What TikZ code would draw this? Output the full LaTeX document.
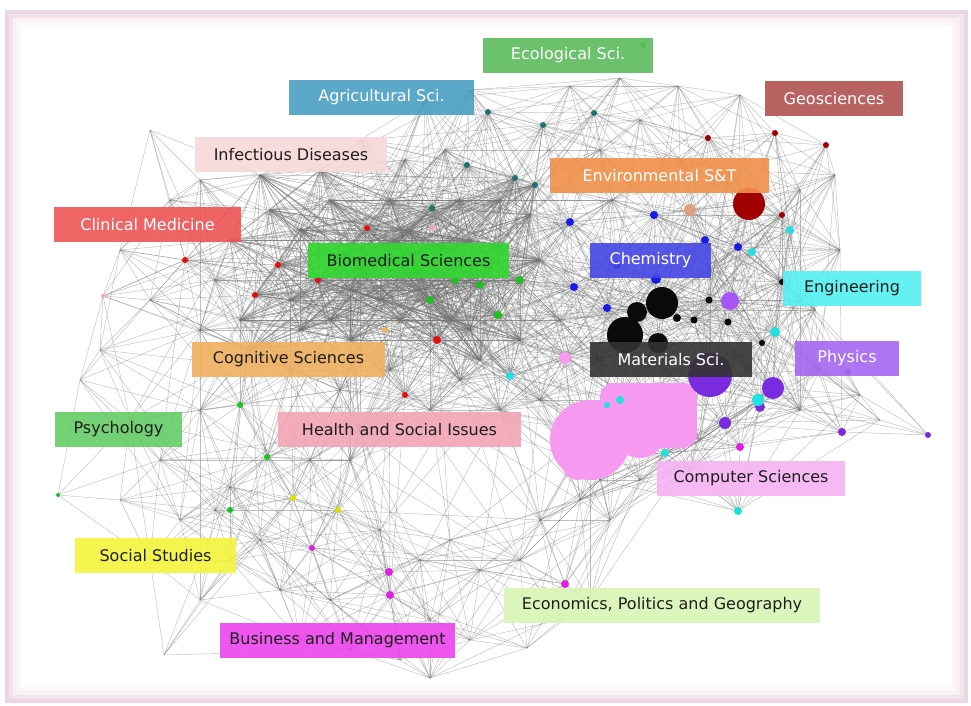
\documentclass[tikz,border=0pt]{standalone}
\usepackage{fontspec}
\setmainfont{DejaVu Sans}
\definecolor{cEco}{HTML}{5DBB5D}
\definecolor{cAgri}{HTML}{4A9FC4}
\definecolor{cGeo}{HTML}{B25252}
\definecolor{cInf}{HTML}{F8D8D8}
\definecolor{cEnv}{HTML}{F0904A}
\definecolor{cClin}{HTML}{EE5555}
\definecolor{cBio}{HTML}{2FD82F}
\definecolor{cChem}{HTML}{4646E6}
\definecolor{cEng}{HTML}{55F0F0}
\definecolor{cCog}{HTML}{F0B060}
\definecolor{cMat}{HTML}{333333}
\definecolor{cPhys}{HTML}{A566F0}
\definecolor{cPsy}{HTML}{66CC66}
\definecolor{cHealth}{HTML}{F2A5B5}
\definecolor{cComp}{HTML}{F7B2F2}
\definecolor{cSoc}{HTML}{F5F53D}
\definecolor{cEcon}{HTML}{D9F5B5}
\definecolor{cBus}{HTML}{EE44EE}
\definecolor{dBlack}{HTML}{0A0A0A}
\definecolor{dPurp}{HTML}{7A2BE0}
\definecolor{dPurpL}{HTML}{A855F7}
\definecolor{dRed}{HTML}{A00000}
\definecolor{dPink}{HTML}{F59AF0}
\definecolor{dCyan}{HTML}{20E0E0}
\definecolor{dBlue}{HTML}{1A1AE6}
\definecolor{dTeal}{HTML}{207070}
\definecolor{dGreen}{HTML}{20C020}
\definecolor{dRedB}{HTML}{E01010}
\definecolor{dYel}{HTML}{E0E000}
\definecolor{dMag}{HTML}{E020E0}
\definecolor{dOra}{HTML}{E0A080}
\definecolor{frameA}{HTML}{EAD6E4}
\definecolor{frameB}{HTML}{F1E3EC}
\definecolor{frameC}{HTML}{F8F0F5}
\definecolor{frameD}{HTML}{FCF8FA}
\definecolor{txt}{HTML}{1E1E1E}
\begin{document}
\begin{tikzpicture}[x=1pt,y=-1pt,
  edge/.style={draw=black!55, line width=0.45pt, opacity=0.45},
  coreedge/.style={draw=black!55, line width=0.5pt, opacity=0.55},
  lab/.style={inner sep=0pt, minimum height=35pt, font=\fontsize{16}{19}\selectfont, fill opacity=0.9, text opacity=1},
  dot/.style={circle, inner sep=0pt, draw=none}]
\useasboundingbox (0,0) rectangle (971,706);
% frame
\fill[frameA] (5,10) rectangle (968,703);
\fill[frameB] (9,14) rectangle (964,699);
\fill[frameC] (13,18) rectangle (960,695);
\fill[frameD] (17,22) rectangle (956,691);
\fill[white] (21,26) rectangle (952,687);
% points of the network
\foreach \px/\py [count=\i] in {
470/90, 570/86, 678/86, 740/95, 620/78, 425/100, 488/112, 543/125, 594/113, 640/120,
708/138, 775/133, 826/145, 445/150, 467/165, 515/178, 535/185, 600/150, 680/160, 730/170,
800/190, 835/175, 782/215, 790/230, 749/204, 690/210, 654/215, 612/200, 570/222, 530/215,
705/240, 738/247, 752/252, 617/265, 655/278, 574/287, 540/260, 607/308, 560/320, 520/280,
500/245, 710/270, 782/282, 800/300, 775/332, 762/343, 730/301, 709/300, 694/320, 728/322,
662/303, 635/310, 625/335, 658/342, 600/360, 565/356, 510/376, 540/400, 620/400, 590/430,
650/410, 575/460, 665/453, 640/480, 600/480, 710/375, 773/388, 760/400, 725/423, 740/447,
842/432, 928/435, 860/395, 820/370, 800/410, 700/440, 738/511, 690/470, 840/250, 815/310,
880/420,
150/130, 200/180, 260/175, 320/170, 390/200, 433/208, 460/200, 367/228, 345/255, 410/230,
440/245, 415/270, 455/280, 480/285, 430/300, 498/315, 470/330, 400/320, 437/340, 380/300,
318/280, 278/265, 255/295, 230/240, 185/260, 200/330, 150/300, 103/296, 240/320, 300/330,
350/340, 390/370, 405/395, 340/390, 290/370, 250/350, 460/380, 500/410, 430/410, 170/200,
120/250, 270/210, 330/200, 300/230, 350/290, 470/240, 490/270, 380/260, 420/290, 330/320,
450/320, 395/240, 360/270, 290/300, 520/340, 480/360, 215/280, 405/160, 360/140, 500/200,
58/495, 80/380, 100/350, 130/420, 160/460, 200/410, 240/405, 230/487, 267/457, 293/498,
338/510, 310/460, 350/460, 180/520, 215/510, 260/540, 312/548, 280/590, 330/600, 389/572,
390/595, 420/560, 450/540, 480/570, 520/560, 565/584, 540/520,
380/530, 430/620, 470/640, 430/678, 400/660, 527/648, 560/620, 590/600, 350/650, 300/640,
200/600, 230/560, 150/560, 120/500, 610/520, 580/500, 164/655, 360/430}
{\coordinate (p\i) at (\px,\py);
 \expandafter\xdef\csname ptx\i\endcsname{\px}%
 \expandafter\xdef\csname pty\i\endcsname{\py}%
 \xdef\npts{\i}}
% edges between points
\foreach \i in {1,...,\npts}{
  \pgfmathtruncatemacro{\st}{\i+1}
  \ifnum\st>\npts\relax\else
  \foreach \j in {\st,...,\npts}{
    \edef\xa{\csname ptx\i\endcsname}\edef\ya{\csname pty\i\endcsname}%
    \edef\xb{\csname ptx\j\endcsname}\edef\yb{\csname pty\j\endcsname}%
    \pgfmathsetmacro{\dd}{veclen(\xb-\xa,\yb-\ya)}%
    \pgfmathtruncatemacro{\hh}{mod(\i*7+\j*13,4)}%
    \pgfmathtruncatemacro{\core}{and(and(\xa>225,\xa<560),and(and(\ya>165,\ya<365),and(and(\xb>225,\xb<560),and(\yb>165,\yb<365))))}%
    \ifdim\dd pt<120pt
      \ifnum\core=1 \draw[coreedge] (p\i) -- (p\j);\else\draw[edge] (p\i) -- (p\j);\fi
    \else
      \ifnum\core=1
        \ifdim\dd pt<270pt \ifodd\hh\relax\else\draw[coreedge] (p\i) -- (p\j);\fi\fi
      \else
        \ifdim\dd pt<210pt
          \ifnum\hh=0 \draw[edge] (p\i) -- (p\j);\fi
        \fi
      \fi
    \fi
  }\fi
}
% coloured dots
\fill[dPink, rounded corners=14pt] (600,383) rectangle (697,448);
\foreach \x/\y/\r/\c [count=\k] in {
590/440/40/dPink, 640/432/26/dPink, 578/464/16/dPink, 565/358/6/dPink,
625/335/18/dBlack, 662/303/16/dBlack, 637/312/10/dBlack, 658/343/10/dBlack, 709/300/3.5/dBlack,
694/320/3.5/dBlack, 728/322/3.5/dBlack, 762/343/3/dBlack, 782/282/3/dBlack, 677/318/4/dBlack,
710/375/22/dPurp, 730/301/9/dPurpL, 773/388/11/dPurp, 725/423/6/dPurp, 760/407/5/dPurp,
842/432/4/dPurp, 928/435/3/dPurp, 848/372/3/dPurp,
749/204/16/dRed, 708/138/3/dRed, 775/133/3/dRed, 826/145/3/dRed, 782/215/3/dRed, 690/210/6/dOra,
790/230/4/dCyan, 752/252/4/dCyan, 775/332/5/dCyan, 758/400/6/dCyan, 620/400/4/dCyan, 665/453/4/dCyan,
738/511/4/dCyan, 510/376/4/dCyan, 607/405/3/dCyan,
570/222/4/dBlue, 654/215/4/dBlue, 705/240/4/dBlue, 738/247/4/dBlue, 617/265/4/dBlue, 574/287/4/dBlue,
607/308/4/dBlue, 656/279/5/dBlue,
488/112/3/dTeal, 467/165/3/dTeal, 515/178/3/dTeal, 535/185/3/dTeal, 594/113/3/dTeal, 543/125/3/dTeal, 432/208/3/dTeal,
430/300/4/dGreen, 455/280/4/dGreen, 480/285/4/dGreen, 520/280/4/dGreen, 498/315/4/dGreen, 415/270/3/dGreen,
460/265/3/dGreen, 643/45/3/dGreen,
185/260/3/dRedB, 255/295/3/dRedB, 278/265/3/dRedB, 318/280/3/dRedB, 437/340/4/dRedB, 405/395/3/dRedB, 367/228/3/dRedB,
432/228/3/cHealth, 103/296/2/cHealth, 385/330/3/cCog,
293/498/3/dYel, 338/510/3/dYel,
240/405/3/dGreen, 267/457/3/dGreen, 230/510/3/dGreen, 58/495/2/dGreen,
389/572/4/dMag, 390/595/4/dMag, 565/584/4/dMag, 312/548/3/dMag, 740/447/4/dMag}
{\node[dot, fill=\c, minimum size=2*\r] (d\k) at (\x,\y) {};}
% labels
\node[lab, fill=cEco, text=white, minimum width=170] (ecol) at (568,55.5) {Ecological Sci.};
\node[lab, fill=cAgri, text=white, minimum width=185] (agri) at (381.5,97.5) {Agricultural Sci.};
\node[lab, fill=cGeo, text=white, minimum width=138] (geo) at (834,98.5) {Geosciences};
\node[lab, fill=cInf, text=txt, minimum width=192] (inf) at (291,154.5) {Infectious Diseases};
\node[lab, fill=cEnv, text=white, minimum width=219] (env) at (659.5,175.5) {Environmental S\&T};
\node[lab, fill=cClin, text=white, minimum width=187] (clin) at (147.5,224.5) {Clinical Medicine};
\node[lab, fill=cBio, text=txt, minimum width=201] (bio) at (408.5,260.5) {Biomedical Sciences};
\node[lab, fill=cChem, text=white, minimum width=121] (chem) at (650.5,260.5) {Chemistry};
\node[lab, fill=cEng, text=txt, minimum width=138] (eng) at (852,288.5) {Engineering};
\node[lab, fill=cCog, text=txt, minimum width=193] (cog) at (288.5,359.5) {Cognitive Sciences};
\node[lab, fill=cMat, text=white, minimum width=162] (mat) at (671,359.5) {Materials Sci.};
\node[lab, fill=cPhys, text=white, minimum width=104] (phys) at (847,358.5) {Physics};
\node[lab, fill=cPsy, text=txt, minimum width=127] (psy) at (118.5,429.5) {Psychology};
\node[lab, fill=cHealth, text=txt, minimum width=243] (health) at (399.5,429.5) {Health and Social Issues};
\node[lab, fill=cComp, text=txt, minimum width=188] (comp) at (751,478.5) {Computer Sciences};
\node[lab, fill=cSoc, text=txt, minimum width=161] (soc) at (155.5,555.5) {Social Studies};
\node[lab, fill=cEcon, text=txt, minimum width=316] (econ) at (662,605.5) {Economics, Politics and Geography};
\node[lab, fill=cBus, text=txt, minimum width=235] (bus) at (337.5,640.5) {Business and Management};
\end{tikzpicture}
\end{document}
